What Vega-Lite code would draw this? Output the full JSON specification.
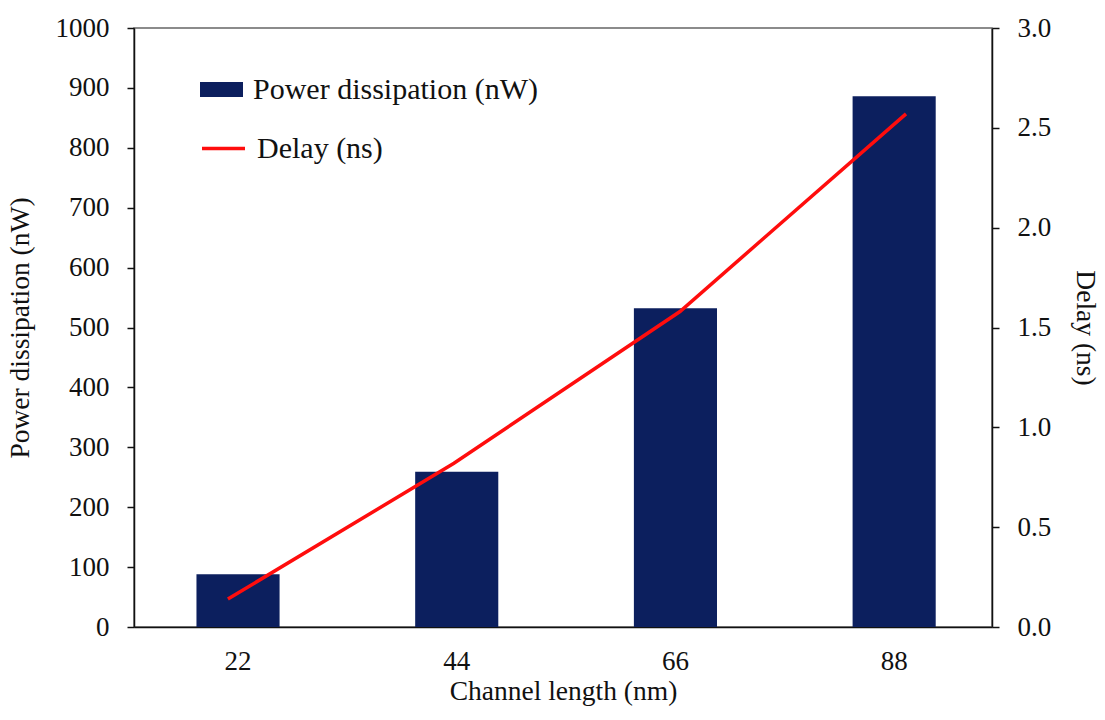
{
  "$schema": "https://vega.github.io/schema/vega-lite/v6.json",
  "width": 858,
  "height": 599,
  "autosize": {"type": "none"},
  "padding": {"left": 134, "top": 28, "right": 113, "bottom": 93},
  "background": "white",
  "config": {
    "view": {"stroke": "#666666", "strokeWidth": 1.5},
    "font": "Liberation Serif",
    "axis": {
      "labelFont": "Liberation Serif",
      "titleFont": "Liberation Serif",
      "labelFontSize": 27,
      "titleFontSize": 27.5,
      "titleFontWeight": "normal",
      "labelColor": "#111",
      "titleColor": "#111",
      "domainColor": "#111",
      "tickColor": "#111",
      "domainWidth": 1.5,
      "tickWidth": 1.5,
      "grid": false
    },
    "legend": {
      "labelFont": "Liberation Serif",
      "labelFontSize": 30,
      "labelColor": "#111",
      "labelLimit": 400
    }
  },
  "data": {
    "values": [
      {"length": "22", "power": 88, "delay": 0.14},
      {"length": "44", "power": 259, "delay": 0.82},
      {"length": "66", "power": 532, "delay": 1.58},
      {"length": "88", "power": 886, "delay": 2.57}
    ]
  },
  "layer": [
    {
      "mark": {"type": "bar", "color": "#0c1f5e"},
      "encoding": {
        "x": {
          "field": "length",
          "type": "ordinal",
          "scale": {"paddingInner": 0.62, "paddingOuter": 0.2715, "align": 0.526},
          "axis": {
            "title": "Channel length (nm)",
            "labelAngle": 0,
            "ticks": false,
            "labelPadding": 21,
            "titlePadding": 3
          }
        },
        "y": {
          "field": "power",
          "type": "quantitative",
          "scale": {"domain": [0, 1000], "nice": false},
          "axis": {
            "title": "Power dissipation (nW)",
            "values": [0, 100, 200, 300, 400, 500, 600, 700, 800, 900, 1000],
            "format": "d",
            "tickSize": 7,
            "labelPadding": 18,
            "titlePadding": 21
          }
        },
        "fill": {
          "datum": "Power dissipation (nW)",
          "scale": {"range": ["#0c1f5e"]},
          "legend": {
            "title": null,
            "orient": "none",
            "legendX": 66,
            "legendY": 40,
            "symbolType": "M-1,-0.35L1,-0.35L1,0.35L-1,0.35Z",
            "symbolSize": 1849,
            "symbolStrokeWidth": 0,
            "labelOffset": 10
          }
        }
      }
    },
    {
      "mark": {"type": "line", "color": "#ff0d0d", "strokeWidth": 3.5},
      "encoding": {
        "x": {
          "field": "length",
          "type": "ordinal",
          "scale": {"type": "point", "padding": 0.398, "align": 0.522},
          "axis": null
        },
        "y": {
          "field": "delay",
          "type": "quantitative",
          "scale": {"domain": [0, 3], "nice": false},
          "axis": {
            "title": "Delay (ns)",
            "orient": "right",
            "values": [0, 0.5, 1, 1.5, 2, 2.5, 3],
            "format": ".1f",
            "tickSize": 7,
            "labelPadding": 18,
            "titlePadding": 20
          }
        },
        "stroke": {
          "datum": "Delay (ns)",
          "scale": {"range": ["#ff0d0d"]},
          "legend": {
            "title": null,
            "orient": "none",
            "legendX": 66,
            "legendY": 97,
            "symbolType": "stroke",
            "symbolSize": 1849,
            "symbolStrokeWidth": 3.5,
            "labelOffset": 10
          }
        }
      }
    }
  ],
  "resolve": {"scale": {"x": "independent", "y": "independent"}}
}
